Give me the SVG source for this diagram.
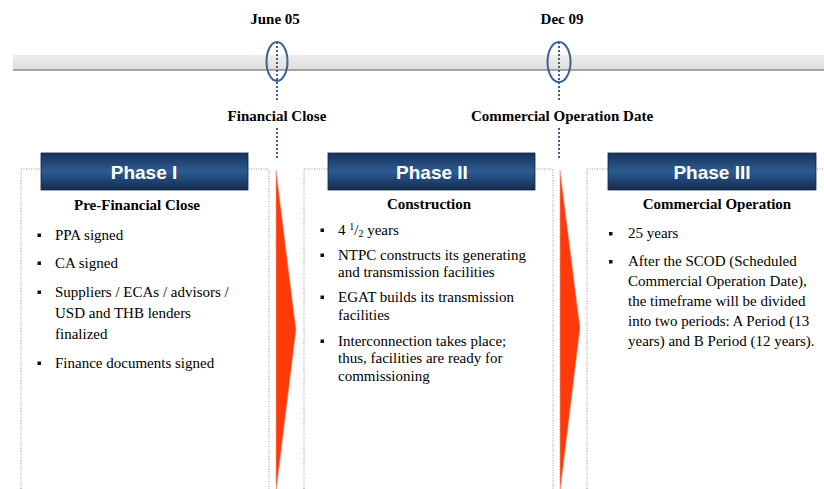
<svg xmlns="http://www.w3.org/2000/svg" width="824" height="489" viewBox="0 0 824 489">
  <defs>
    <linearGradient id="hdrFill" x1="0" y1="0" x2="0" y2="1">
      <stop offset="0" stop-color="#17315b"/>
      <stop offset="0.5" stop-color="#2d5c92"/>
      <stop offset="1" stop-color="#132a4f"/>
    </linearGradient>
    <linearGradient id="barFill" x1="0" y1="0" x2="0" y2="1">
      <stop offset="0" stop-color="#ededed"/>
      <stop offset="1" stop-color="#dedede"/>
    </linearGradient>
  </defs>
  <style>
    .date{font-family:"Liberation Serif","Times New Roman",serif;font-weight:bold;font-size:15px;fill:#000;text-anchor:middle}
    .htxt{font-family:"Liberation Sans",Arial,sans-serif;font-weight:bold;font-size:19px;fill:#fff;text-anchor:middle}
    .sub{font-family:"Liberation Serif","Times New Roman",serif;font-weight:bold;font-size:15px;fill:#000;text-anchor:middle}
    .body{font-family:"Liberation Serif","Times New Roman",serif;font-size:15px;fill:#000}
    .panel{fill:none;stroke:#8595aa;stroke-width:1;stroke-dasharray:1 1.5}
    .hdr{fill:url(#hdrFill);stroke:#10264a;stroke-width:0.8}
    .mark{fill:none;stroke:#3b6292;stroke-width:2}
    .lead{stroke:#3b6292;stroke-width:2;stroke-dasharray:2 2}
    .chev{fill:#ff3a0a;stroke:#f7a08c;stroke-width:0.6}
    .bul{fill:#111}
  </style>

  <!-- timeline bar -->
  <g id="timeline">
    <rect x="13" y="55" width="811" height="15" fill="url(#barFill)"/>
    <line x1="13" y1="70" x2="824" y2="70" stroke="#8c8c8c" stroke-width="1.5"/>
  </g>

  <!-- milestones -->
  <g id="milestone-fc">
    <text class="date" x="275" y="24">June 05</text>
    <ellipse class="mark" cx="277" cy="61.5" rx="10.5" ry="19.5"/>
    <text class="date" x="277" y="121">Financial Close</text>
  </g>
  <g id="milestone-cod">
    <text class="date" x="562" y="24">Dec 09</text>
    <ellipse class="mark" cx="559" cy="62" rx="11.5" ry="20"/>
    <text class="date" x="562" y="121">Commercial Operation Date</text>
  </g>

  <!-- connectors: milestone leaders and phase chevrons -->
  <g id="connectors">
    <line class="lead" x1="277" y1="42" x2="277" y2="101"/>
    <line class="lead" x1="277" y1="128" x2="277" y2="160"/>
    <line class="lead" x1="559" y1="42" x2="559" y2="101"/>
    <line class="lead" x1="559" y1="128" x2="559" y2="160"/>
    <polygon class="chev" points="276,170 296,330 276,492"/>
    <polygon class="chev" points="560,170 580,328 560,492"/>
  </g>

  <!-- Phase I -->
  <g id="phase1">
    <path class="panel" d="M21,489 V169 H269 V489"/>
    <rect class="hdr" x="41" y="153" width="207" height="37"/>
    <text class="htxt" x="144" y="179">Phase I</text>
    <text class="sub" x="137" y="210">Pre-Financial Close</text>
    <rect class="bul" x="37.5" y="233.5" width="3.5" height="3.5"/>
    <text class="body" x="55" y="239.5">PPA signed</text>
    <rect class="bul" x="37.5" y="261.5" width="3.5" height="3.5"/>
    <text class="body" x="55" y="267.5">CA signed</text>
    <rect class="bul" x="37.5" y="290.5" width="3.5" height="3.5"/>
    <text class="body" x="55" y="296.5">Suppliers / ECAs / advisors /</text>
    <text class="body" x="55" y="317.5">USD and THB lenders</text>
    <text class="body" x="55" y="338.5">finalized</text>
    <rect class="bul" x="37.5" y="361.5" width="3.5" height="3.5"/>
    <text class="body" x="55" y="367.5">Finance documents signed</text>
  </g>

  <!-- Phase II -->
  <g id="phase2">
    <path class="panel" d="M304,489 V169 H553 V489"/>
    <rect class="hdr" x="328" y="153" width="207" height="37"/>
    <text class="htxt" x="432" y="179">Phase II</text>
    <text class="sub" x="429" y="209">Construction</text>
    <rect class="bul" x="320.5" y="228.5" width="3.5" height="3.5"/>
    <text class="body" x="338" y="234.5">4 <tspan font-size="10" dy="-5">1</tspan><tspan dy="5">/</tspan><tspan font-size="10" dy="2">2</tspan><tspan dy="-2"> years</tspan></text>
    <rect class="bul" x="320.5" y="253.5" width="3.5" height="3.5"/>
    <text class="body" x="338" y="259.5">NTPC constructs its generating</text>
    <text class="body" x="338" y="276.5">and transmission facilities</text>
    <rect class="bul" x="320.5" y="295.5" width="3.5" height="3.5"/>
    <text class="body" x="338" y="301.5">EGAT builds its transmission</text>
    <text class="body" x="338" y="319.5">facilities</text>
    <rect class="bul" x="320.5" y="339.5" width="3.5" height="3.5"/>
    <text class="body" x="338" y="345.5">Interconnection takes place;</text>
    <text class="body" x="338" y="362.5">thus, facilities are ready for</text>
    <text class="body" x="338" y="380.5">commissioning</text>
  </g>

  <!-- Phase III -->
  <g id="phase3">
    <path class="panel" d="M587,489 V169 H824"/>
    <rect class="hdr" x="608" y="153" width="208" height="37"/>
    <text class="htxt" x="712" y="179">Phase III</text>
    <text class="sub" x="717" y="209">Commercial Operation</text>
    <rect class="bul" x="609" y="232" width="3.5" height="3.5"/>
    <text class="body" x="628" y="238">25 years</text>
    <rect class="bul" x="609" y="260" width="3.5" height="3.5"/>
    <text class="body" x="628" y="266">After the SCOD (Scheduled</text>
    <text class="body" x="628" y="286">Commercial Operation Date),</text>
    <text class="body" x="628" y="306">the timeframe will be divided</text>
    <text class="body" x="628" y="326">into two periods: A Period (13</text>
    <text class="body" x="628" y="346">years) and B Period (12 years).</text>
  </g>
</svg>
